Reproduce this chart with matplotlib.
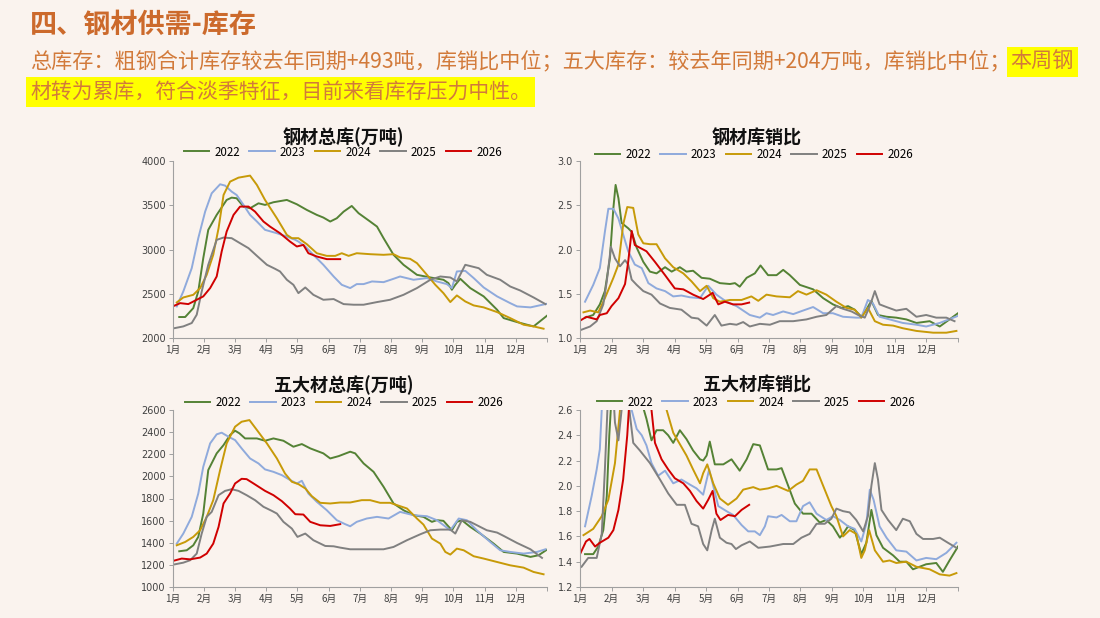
import matplotlib
matplotlib.use("Agg")
import matplotlib.pyplot as plt

plt.rcParams['font.family'] = ['Noto Sans CJK SC', 'DejaVu Sans']

BG = "#FAF3EE"
YEARS = ["2022", "2023", "2024", "2025", "2026"]
COLORS = ["#548235", "#8FAADC", "#C79A08", "#808080", "#D00000"]
MONTHS = ["1月", "2月", "3月", "4月", "5月", "6月", "7月", "8月", "9月", "10月", "11月", "12月"]

# x values are positions in months since 1 Jan (0 = 1月, 12 = year end)

# 钢材总库 (万吨)
total_2022_x = [0.21, 0.40, 0.66, 0.82, 0.98, 1.14, 1.41, 1.73, 1.89, 2.05, 2.27, 2.48, 2.75, 2.96, 3.23,
                3.66, 3.98, 4.30, 4.62, 4.83, 5.05, 5.26, 5.48, 5.74, 5.96, 6.33, 6.55, 6.76, 7.08, 7.40,
                7.83, 8.26, 8.68, 8.84, 8.95, 9.06, 9.22, 9.54, 9.97, 10.40, 10.61, 11.04, 11.36, 11.57, 12.0]
total_2022 = [2237, 2237, 2338, 2526, 2902, 3222, 3391, 3560, 3586, 3579, 3485, 3466, 3522, 3504, 3534,
              3560, 3511, 3447, 3391, 3361, 3316, 3353, 3428, 3492, 3410, 3316, 3259, 3128, 2940, 2827,
              2714, 2684, 2658, 2620, 2545, 2601, 2669, 2564, 2470, 2319, 2225, 2180, 2150, 2131, 2252]
total_2023_x = [0.13, 0.34, 0.61, 0.82, 1.04, 1.25, 1.52, 1.68, 1.89, 2.05, 2.27, 2.48, 2.70, 2.96, 3.34,
                3.66, 3.93, 4.03, 4.25, 4.51, 4.83, 5.16, 5.42, 5.69, 5.90, 6.12, 6.39, 6.76, 7.08, 7.29,
                7.72, 8.15, 8.47, 8.79, 8.95, 9.11, 9.38, 9.65, 9.97, 10.40, 10.82, 11.04, 11.47, 12.0]
total_2023 = [2357, 2526, 2789, 3128, 3428, 3635, 3737, 3722, 3654, 3616, 3504, 3391, 3316, 3222, 3184,
              3146, 3109, 3090, 3034, 2940, 2827, 2695, 2601, 2564, 2609, 2609, 2639, 2631, 2669, 2695,
              2658, 2677, 2639, 2609, 2564, 2752, 2759, 2677, 2571, 2470, 2394, 2357, 2346, 2387]
total_2024_x = [0.13, 0.34, 0.66, 0.88, 1.09, 1.30, 1.47, 1.63, 1.84, 2.11, 2.48, 2.70, 2.96, 3.34, 3.66,
                3.82, 4.03, 4.30, 4.62, 4.94, 5.21, 5.42, 5.64, 5.90, 6.33, 6.76, 7.08, 7.29, 7.61, 7.83,
                8.15, 8.42, 8.68, 8.90, 9.11, 9.38, 9.65, 9.97, 10.40, 10.82, 11.25, 11.57, 11.89]
total_2024 = [2402, 2458, 2488, 2564, 2714, 2940, 3240, 3616, 3767, 3812, 3835, 3729, 3560, 3353, 3165,
              3128, 3128, 3060, 2958, 2928, 2928, 2958, 2928, 2958, 2947, 2940, 2947, 2910, 2895, 2846,
              2714, 2601, 2507, 2406, 2481, 2413, 2368, 2346, 2293, 2225, 2150, 2131, 2105]
total_2025_x = [0.07, 0.34, 0.61, 0.77, 0.93, 1.14, 1.41, 1.63, 1.89, 2.16, 2.43, 2.70, 3.02, 3.28, 3.44,
                3.66, 3.87, 4.03, 4.25, 4.51, 4.83, 5.16, 5.48, 5.80, 6.12, 6.55, 6.97, 7.40, 7.83, 8.26,
                8.58, 8.90, 9.11, 9.27, 9.38, 9.81, 10.07, 10.50, 10.82, 11.14, 11.57, 11.95]
total_2025 = [2112, 2131, 2169, 2263, 2526, 2827, 3109, 3135, 3128, 3071, 3015, 2928, 2827, 2782, 2752,
              2658, 2601, 2507, 2571, 2488, 2432, 2440, 2383, 2376, 2376, 2406, 2432, 2488, 2564, 2658,
              2695, 2684, 2639, 2752, 2827, 2789, 2714, 2658, 2582, 2537, 2458, 2383]
total_2026_x = [0.0, 0.24, 0.50, 0.77, 0.98, 1.20, 1.41, 1.57, 1.73, 1.95, 2.16, 2.43, 2.64, 2.91, 3.12,
                3.44, 3.76, 3.98, 4.19, 4.35, 4.62, 4.94, 5.37]
total_2026 = [2357, 2394, 2383, 2432, 2470, 2564, 2695, 2977, 3203, 3391, 3485, 3485, 3428, 3316, 3259,
              3184, 3090, 3034, 3052, 2958, 2921, 2891, 2891]

# 钢材库销比
ratio_2022_x = [0.16, 0.42, 0.63, 0.79, 0.95, 1.06, 1.13, 1.22, 1.32, 1.53, 1.64, 1.80, 2.01, 2.22, 2.43,
                2.70, 2.91, 3.17, 3.38, 3.59, 3.86, 4.12, 4.44, 4.76, 4.92, 5.07, 5.29, 5.55, 5.73, 5.97,
                6.24, 6.45, 6.66, 6.98, 7.40, 7.72, 8.03, 8.30, 8.51, 8.72, 8.93, 9.09, 9.25, 9.46, 9.73,
                10.04, 10.36, 10.68, 11.10, 11.42, 11.73, 12.0]
ratio_2022 = [1.23, 1.26, 1.38, 1.53, 1.90, 2.47, 2.73, 2.58, 2.30, 2.24, 2.20, 2.02, 1.86, 1.75, 1.73,
              1.80, 1.75, 1.80, 1.75, 1.76, 1.68, 1.67, 1.62, 1.61, 1.62, 1.58, 1.68, 1.73, 1.82, 1.71,
              1.71, 1.77, 1.71, 1.60, 1.55, 1.45, 1.38, 1.34, 1.36, 1.32, 1.24, 1.32, 1.42, 1.26, 1.24,
              1.23, 1.21, 1.17, 1.19, 1.13, 1.21, 1.28]
ratio_2023_x = [0.16, 0.42, 0.63, 0.79, 0.90, 1.06, 1.22, 1.37, 1.53, 1.74, 1.96, 2.17, 2.43, 2.70, 2.96,
                3.22, 3.49, 3.81, 4.07, 4.33, 4.65, 4.97, 5.39, 5.71, 5.92, 6.13, 6.45, 6.77, 7.08, 7.40,
                7.72, 8.03, 8.35, 8.77, 8.93, 9.14, 9.30, 9.51, 9.83, 10.25, 10.68, 10.99, 11.42, 12.0]
ratio_2023 = [1.41, 1.60, 1.79, 2.20, 2.46, 2.46, 2.35, 2.17, 1.98, 1.83, 1.79, 1.62, 1.56, 1.53, 1.47,
              1.48, 1.46, 1.45, 1.59, 1.49, 1.41, 1.36, 1.26, 1.23, 1.28, 1.26, 1.30, 1.27, 1.31, 1.35,
              1.28, 1.28, 1.24, 1.23, 1.23, 1.43, 1.39, 1.24, 1.21, 1.17, 1.15, 1.13, 1.17, 1.25]
ratio_2024_x = [0.11, 0.32, 0.58, 0.79, 1.06, 1.22, 1.37, 1.50, 1.69, 1.85, 2.01, 2.22, 2.43, 2.70, 2.96,
                3.28, 3.54, 3.81, 4.02, 4.23, 4.44, 4.76, 5.13, 5.44, 5.66, 5.92, 6.24, 6.66, 6.92, 7.19,
                7.51, 7.82, 8.14, 8.46, 8.72, 8.93, 9.14, 9.36, 9.62, 9.94, 10.25, 10.68, 11.21, 11.63, 11.95]
ratio_2024 = [1.29, 1.31, 1.29, 1.45, 1.68, 1.83, 2.28, 2.48, 2.47, 2.17, 2.07, 2.06, 2.06, 1.90, 1.80,
              1.73, 1.64, 1.53, 1.59, 1.45, 1.41, 1.43, 1.43, 1.47, 1.42, 1.49, 1.47, 1.46, 1.53, 1.49,
              1.54, 1.49, 1.41, 1.34, 1.32, 1.23, 1.34, 1.19, 1.15, 1.14, 1.11, 1.08, 1.06, 1.06, 1.08]
ratio_2025_x = [0.02, 0.32, 0.53, 0.74, 0.85, 0.98, 1.11, 1.27, 1.43, 1.53, 1.64, 1.80, 2.01, 2.27, 2.54,
                2.85, 3.22, 3.54, 3.75, 4.02, 4.28, 4.49, 4.76, 4.97, 5.18, 5.39, 5.71, 6.03, 6.34, 6.77,
                7.19, 7.51, 7.82, 8.14, 8.35, 8.62, 8.83, 9.04, 9.20, 9.36, 9.51, 9.73, 10.04, 10.36, 10.68,
                10.99, 11.31, 11.63, 11.89]
ratio_2025 = [1.09, 1.13, 1.19, 1.38, 1.64, 2.03, 1.90, 1.81, 1.88, 1.83, 1.66, 1.60, 1.53, 1.49, 1.39,
              1.34, 1.32, 1.23, 1.22, 1.14, 1.26, 1.14, 1.16, 1.15, 1.18, 1.13, 1.16, 1.15, 1.19, 1.19,
              1.21, 1.24, 1.26, 1.36, 1.33, 1.30, 1.26, 1.23, 1.36, 1.53, 1.38, 1.35, 1.31, 1.33, 1.24,
              1.26, 1.23, 1.23, 1.19]
ratio_2026_x = [0.02, 0.21, 0.53, 0.63, 0.85, 1.00, 1.22, 1.43, 1.53, 1.64, 1.74, 1.90, 2.11, 2.38, 2.70,
                3.01, 3.28, 3.59, 3.91, 4.21, 4.39, 4.60, 4.86, 5.13, 5.37]
ratio_2026 = [1.20, 1.24, 1.21, 1.26, 1.28, 1.36, 1.45, 1.61, 1.86, 2.21, 2.05, 2.02, 1.98, 1.86, 1.71,
              1.56, 1.55, 1.49, 1.44, 1.51, 1.38, 1.41, 1.38, 1.38, 1.40]

# 五大材总库 (万吨)
five_2022_x = [0.21, 0.45, 0.66, 0.82, 0.98, 1.14, 1.41, 1.63, 1.84, 2.00, 2.14, 2.32, 2.70, 2.96, 3.23,
               3.55, 3.87, 4.14, 4.41, 4.83, 5.05, 5.32, 5.69, 5.85, 6.12, 6.44, 6.76, 7.08, 7.40, 7.72,
               8.04, 8.31, 8.47, 8.68, 8.95, 9.11, 9.27, 9.54, 9.86, 10.29, 10.61, 11.04, 11.47, 11.73, 12.0]
five_2022 = [1323, 1332, 1377, 1453, 1664, 2057, 2208, 2283, 2374, 2413, 2389, 2343, 2343, 2322, 2343,
             2322, 2268, 2292, 2253, 2208, 2162, 2183, 2223, 2208, 2117, 2041, 1906, 1755, 1694, 1649,
             1634, 1589, 1604, 1598, 1513, 1589, 1604, 1543, 1483, 1392, 1317, 1302, 1272, 1287, 1338]
five_2023_x = [0.13, 0.34, 0.61, 0.82, 0.98, 1.20, 1.41, 1.57, 1.79, 2.00, 2.21, 2.48, 2.75, 2.96, 3.23,
               3.50, 3.77, 3.98, 4.14, 4.35, 4.62, 4.94, 5.26, 5.53, 5.69, 5.90, 6.22, 6.55, 6.92, 7.29,
               7.72, 8.15, 8.47, 8.90, 9.17, 9.43, 9.75, 10.18, 10.50, 10.82, 11.25, 11.68, 11.95]
five_2023 = [1392, 1483, 1634, 1845, 2087, 2298, 2380, 2395, 2358, 2328, 2253, 2162, 2117, 2063, 2041,
             2011, 1966, 1936, 1960, 1845, 1770, 1694, 1604, 1568, 1549, 1589, 1619, 1634, 1619, 1679,
             1649, 1640, 1604, 1513, 1619, 1604, 1513, 1407, 1332, 1317, 1302, 1317, 1341]
five_2024_x = [0.13, 0.40, 0.66, 0.88, 1.09, 1.30, 1.52, 1.73, 2.00, 2.21, 2.46, 2.70, 3.02, 3.34, 3.60,
               3.82, 4.03, 4.25, 4.46, 4.73, 5.05, 5.37, 5.69, 6.06, 6.33, 6.65, 6.97, 7.19, 7.51, 7.83,
               8.04, 8.31, 8.58, 8.74, 8.90, 9.11, 9.33, 9.65, 9.97, 10.40, 10.82, 11.25, 11.57, 11.89]
five_2024 = [1377, 1407, 1453, 1513, 1634, 1785, 2057, 2298, 2449, 2494, 2509, 2419, 2298, 2162, 2026,
             1951, 1930, 1891, 1821, 1761, 1755, 1764, 1764, 1785, 1785, 1761, 1761, 1740, 1710, 1619,
             1564, 1438, 1392, 1317, 1293, 1347, 1332, 1278, 1257, 1226, 1196, 1175, 1136, 1115]
five_2025_x = [0.07, 0.34, 0.56, 0.77, 0.93, 1.09, 1.25, 1.47, 1.68, 1.89, 2.11, 2.37, 2.64, 2.91, 3.18,
               3.34, 3.55, 3.82, 4.00, 4.25, 4.51, 4.89, 5.16, 5.37, 5.69, 6.22, 6.76, 7.08, 7.51, 7.94,
               8.26, 8.58, 8.90, 9.06, 9.27, 9.54, 9.86, 10.07, 10.40, 10.61, 11.04, 11.47, 11.84]
five_2025 = [1205, 1220, 1242, 1302, 1483, 1634, 1679, 1830, 1869, 1884, 1869, 1830, 1785, 1725, 1688,
             1664, 1589, 1528, 1453, 1483, 1423, 1371, 1368, 1356, 1341, 1341, 1341, 1362, 1423, 1477,
             1513, 1519, 1519, 1483, 1604, 1589, 1543, 1513, 1492, 1462, 1398, 1341, 1263]
five_2026_x = [0.0, 0.29, 0.56, 0.88, 1.09, 1.30, 1.47, 1.63, 1.84, 2.00, 2.21, 2.37, 2.59, 2.96, 3.23,
               3.50, 3.76, 3.93, 4.19, 4.41, 4.73, 5.05, 5.37]
five_2026 = [1235, 1257, 1250, 1266, 1302, 1392, 1543, 1755, 1845, 1936, 1978, 1975, 1936, 1869, 1830,
             1776, 1709, 1658, 1655, 1589, 1558, 1552, 1568]

# 五大材库销比 (peaks run above the 2.6 axis top)
fratio_2022_x = [0.16, 0.42, 0.58, 0.74, 0.85, 0.93, 1.00, 1.16, 1.59, 1.96, 2.11, 2.27, 2.43, 2.64, 2.80,
                 2.96, 3.17, 3.38, 3.59, 3.81, 3.91, 4.02, 4.12, 4.28, 4.55, 4.81, 5.07, 5.29, 5.50, 5.71,
                 5.97, 6.24, 6.40, 6.61, 6.82, 7.08, 7.35, 7.61, 7.82, 8.03, 8.25, 8.35, 8.51, 8.72, 8.93,
                 9.09, 9.25, 9.41, 9.62, 9.94, 10.15, 10.36, 10.57, 10.78, 10.99, 11.31, 11.52, 11.73, 12.0]
fratio_2022 = [1.46, 1.46, 1.52, 1.65, 1.92, 2.40, 2.70, 3.40, 3.40, 2.66, 2.53, 2.36, 2.44, 2.44, 2.40,
               2.34, 2.44, 2.37, 2.28, 2.21, 2.20, 2.24, 2.35, 2.17, 2.17, 2.21, 2.12, 2.21, 2.33, 2.32,
               2.13, 2.13, 2.14, 2.00, 1.86, 1.78, 1.78, 1.71, 1.73, 1.68, 1.59, 1.62, 1.68, 1.65, 1.46,
               1.55, 1.81, 1.61, 1.51, 1.45, 1.40, 1.40, 1.34, 1.36, 1.38, 1.39, 1.32, 1.41, 1.52]
fratio_2023_x = [0.16, 0.37, 0.53, 0.63, 0.69, 1.16, 1.64, 1.80, 1.96, 2.11, 2.27, 2.48, 2.70, 2.96, 3.22,
                 3.49, 3.70, 3.91, 4.10, 4.23, 4.39, 4.65, 4.86, 5.13, 5.34, 5.55, 5.71, 5.87, 5.97, 6.24,
                 6.40, 6.66, 6.87, 7.08, 7.29, 7.51, 7.82, 8.03, 8.25, 8.51, 8.72, 8.93, 9.09, 9.20, 9.32,
                 9.51, 9.73, 10.04, 10.36, 10.68, 10.99, 11.31, 11.63, 11.95]
fratio_2023 = [1.68, 1.92, 2.13, 2.29, 2.60, 3.40, 2.60, 2.45, 2.40, 2.32, 2.18, 2.08, 2.12, 2.02, 2.05,
               2.01, 1.98, 1.93, 2.13, 2.00, 1.84, 1.80, 1.77, 1.69, 1.64, 1.64, 1.61, 1.68, 1.76, 1.75,
               1.77, 1.72, 1.72, 1.84, 1.87, 1.78, 1.73, 1.76, 1.73, 1.68, 1.66, 1.56, 1.70, 1.97, 1.89,
               1.68, 1.59, 1.49, 1.48, 1.41, 1.43, 1.42, 1.47, 1.55]
fratio_2024_x = [0.11, 0.42, 0.69, 0.90, 1.11, 1.27, 2.01, 2.75, 2.96, 3.17, 3.38, 3.59, 3.81, 3.91, 4.04,
                 4.23, 4.44, 4.70, 4.97, 5.18, 5.50, 5.71, 5.97, 6.24, 6.61, 6.87, 7.08, 7.29, 7.51, 7.72,
                 7.98, 8.14, 8.35, 8.56, 8.77, 8.93, 9.04, 9.18, 9.36, 9.62, 9.83, 10.04, 10.36, 10.68, 11.10,
                 11.42, 11.73, 11.95]
fratio_2024 = [1.61, 1.66, 1.76, 1.89, 2.18, 2.60, 3.40, 2.60, 2.42, 2.33, 2.24, 2.13, 2.02, 2.10, 2.17,
               2.02, 1.90, 1.85, 1.90, 1.97, 1.99, 1.97, 1.98, 2.00, 1.96, 2.01, 2.04, 2.13, 2.13, 2.00,
               1.84, 1.76, 1.60, 1.65, 1.62, 1.43, 1.49, 1.65, 1.49, 1.40, 1.41, 1.39, 1.40, 1.36, 1.34,
               1.30, 1.29, 1.31]
fratio_2025_x = [0.05, 0.26, 0.53, 0.69, 0.79, 0.87, 0.95, 1.11, 1.22, 1.32, 1.43, 1.59, 1.69, 1.90, 2.22,
                 2.54, 2.80, 3.07, 3.33, 3.54, 3.75, 3.91, 4.04, 4.18, 4.28, 4.44, 4.65, 4.81, 4.95, 5.13,
                 5.39, 5.66, 6.03, 6.45, 6.77, 7.03, 7.29, 7.51, 7.77, 7.98, 8.14, 8.35, 8.56, 8.77, 8.99,
                 9.14, 9.25, 9.36, 9.46, 9.57, 9.78, 10.04, 10.25, 10.47, 10.68, 10.89, 11.21, 11.42, 11.68, 11.95]
fratio_2025 = [1.36, 1.43, 1.43, 1.62, 2.13, 2.60, 3.20, 2.50, 2.36, 2.60, 3.00, 2.55, 2.34, 2.28, 2.18,
               2.05, 1.94, 1.85, 1.85, 1.70, 1.68, 1.54, 1.49, 1.65, 1.74, 1.59, 1.55, 1.54, 1.50, 1.53,
               1.56, 1.51, 1.52, 1.54, 1.54, 1.59, 1.62, 1.70, 1.70, 1.74, 1.82, 1.80, 1.79, 1.73, 1.64,
               1.76, 2.00, 2.18, 2.05, 1.81, 1.73, 1.65, 1.74, 1.72, 1.62, 1.58, 1.58, 1.59, 1.55, 1.51]
fratio_2026_x = [0.02, 0.19, 0.30, 0.48, 0.63, 0.90, 1.06, 1.22, 1.37, 1.50, 1.55, 1.90, 2.27, 2.38, 2.59,
                 2.80, 3.01, 3.28, 3.49, 3.70, 3.91, 4.07, 4.21, 4.33, 4.46, 4.70, 4.92, 5.13, 5.37]
fratio_2026 = [1.47, 1.56, 1.58, 1.52, 1.55, 1.59, 1.65, 1.81, 2.05, 2.40, 2.60, 3.40, 2.60, 2.34, 2.21,
               2.13, 2.06, 2.02, 1.96, 1.88, 1.82, 1.89, 1.96, 1.78, 1.73, 1.77, 1.76, 1.81, 1.85]

W, H = 1100, 618


def px(x, y):
    # pixel position (top-left origin) to figure fraction
    return x / W, 1 - y / H


def draw_panel(fig, rect, series, ylim, yticks, yfmt, title, title_xy, legend_xy):
    ax = fig.add_axes(rect)
    ax.set_facecolor(BG)
    for (xs, ys), year, color in zip(series, YEARS, COLORS):
        ax.plot(xs, ys, color=color, lw=1.4, label=year, solid_joinstyle="round")
    ax.set_xlim(0, 12)
    ax.set_ylim(*ylim)
    ax.set_xticks(range(13))
    ax.set_xticklabels(MONTHS + [""], fontsize=7, color="#404040")
    ax.set_yticks(yticks)
    ax.set_yticklabels([yfmt.format(v) for v in yticks], fontsize=7, color="#404040",
                       family="DejaVu Sans")
    for s in ["top", "right"]:
        ax.spines[s].set_visible(False)
    for s in ["left", "bottom"]:
        ax.spines[s].set_color("#A0A0A0")
        ax.spines[s].set_linewidth(0.8)
    ax.tick_params(axis="both", length=3, width=0.7, color="#A0A0A0", pad=2)
    tx, ty = px(*title_xy)
    fig.text(tx, ty, title, ha="center", va="center", fontsize=13, fontweight="bold", color="#111111")
    lx, ly = px(*legend_xy)
    fig.legend(*ax.get_legend_handles_labels(), loc="center", bbox_to_anchor=(lx, ly), ncol=5,
               frameon=False, fontsize=8.3, handlelength=2.2, columnspacing=0.8, handletextpad=0.45,
               borderaxespad=0, borderpad=0)
    return ax


fig = plt.figure(figsize=(11, 6.18), dpi=100)
fig.patch.set_facecolor(BG)

# header
tx, ty = px(30, 25)
fig.text(tx, ty, "四、钢材供需-库存", fontsize=19.5, fontweight="bold", color="#CC6A2C", va="center")

hl = dict(boxstyle="square,pad=0.18", facecolor="#FFFF00", edgecolor="none")
sub_color = "#D27A3A"
x1, y1 = px(30, 62)
t1 = fig.text(x1, y1, "总库存：粗钢合计库存较去年同期+493吨，库销比中位；五大库存：较去年同期+204万吨，库销比中位；",
              fontsize=15.2, color=sub_color, va="center")
fig.canvas.draw()
bb = t1.get_window_extent(fig.canvas.get_renderer())
fig.text(bb.x1 / W, y1, "本周钢", fontsize=15.2, color=sub_color, va="center", bbox=hl)
x2, y2 = px(30, 92)
fig.text(x2, y2, "材转为累库，符合淡季特征，目前来看库存压力中性。", fontsize=15, color=sub_color,
         va="center", bbox=hl)

# panels
left1, right1 = 172.7, 547
left2, right2 = 580, 958
top_row = (161, 338)
bot_row = (410, 587)


def rect(l, r, rows):
    return [l / W, 1 - rows[1] / H, (r - l) / W, (rows[1] - rows[0]) / H]


draw_panel(fig, rect(left1, right1, top_row),
           [(total_2022_x, total_2022), (total_2023_x, total_2023), (total_2024_x, total_2024),
            (total_2025_x, total_2025), (total_2026_x, total_2026)],
           (2000, 4000), [2000, 2500, 3000, 3500, 4000], "{:.0f}",
           "钢材总库(万吨)", (343, 137), (343, 152))

draw_panel(fig, rect(left2, right2, top_row),
           [(ratio_2022_x, ratio_2022), (ratio_2023_x, ratio_2023), (ratio_2024_x, ratio_2024),
            (ratio_2025_x, ratio_2025), (ratio_2026_x, ratio_2026)],
           (1.0, 3.0), [1.0, 1.5, 2.0, 2.5, 3.0], "{:.1f}",
           "钢材库销比", (757, 138), (754, 155))

draw_panel(fig, rect(left1, right1, bot_row),
           [(five_2022_x, five_2022), (five_2023_x, five_2023), (five_2024_x, five_2024),
            (five_2025_x, five_2025), (five_2026_x, five_2026)],
           (1000, 2600), list(range(1000, 2601, 200)), "{:.0f}",
           "五大材总库(万吨)", (344, 385), (344, 403))

draw_panel(fig, rect(left2, right2, bot_row),
           [(fratio_2022_x, fratio_2022), (fratio_2023_x, fratio_2023), (fratio_2024_x, fratio_2024),
            (fratio_2025_x, fratio_2025), (fratio_2026_x, fratio_2026)],
           (1.2, 2.6), [1.2, 1.4, 1.6, 1.8, 2.0, 2.2, 2.4, 2.6], "{:.1f}",
           "五大材库销比", (757, 385), (756, 402))

fig.savefig("out.png", dpi=100, facecolor=BG)
